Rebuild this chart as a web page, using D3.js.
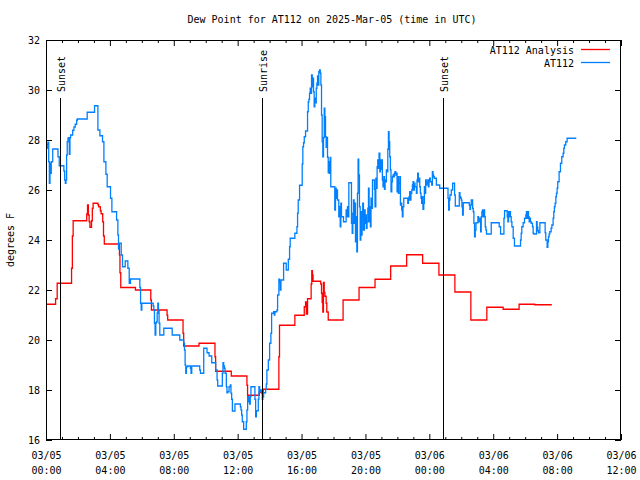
<!DOCTYPE html>
<html>
<head>
<meta charset="utf-8">
<script src="https://cdn.jsdelivr.net/npm/d3@7"></script>
<style>
  html, body { margin: 0; padding: 0; background: #fff; }
  svg { display: block; }
  text { font-family: "DejaVu Sans Mono", "Liberation Mono", monospace; font-size: 10px; fill: #000; }
</style>
</head>
<body>
<svg id="chart" width="640" height="480"></svg>
<script>
// ---------------- DATA ----------------
const titleText = "Dew Point for AT112 on 2025-Mar-05 (time in UTC)";
const yAxisLabel = "degrees F";
const startTime = "2025-03-05T00:00:00Z";
const endTime = "2025-03-06T12:00:00Z";
const yTicks = [16, 18, 20, 22, 24, 26, 28, 30, 32];
const xTickHours = [0, 4, 8, 12, 16, 20, 24, 28, 32, 36];
const seriesNames = ["AT112 Analysis", "AT112"];
const seriesColors = ["#ff0000", "#0080ff"];
// sun events, hours after start
const sunEventHours = [0.9, 13.52, 24.83];
const sunEventLabels = ["Sunset", "Sunrise", "Sunset"];

// [hours after 03/05 00:00 UTC, dew point °F]
const analysisData = [
  [0, 21.43], [0.6, 21.65], [0.7, 22.27], [1.6, 22.87], [1.65, 24.16], [1.7, 24.77],
  [2.55, 25.04], [2.6, 25.4], [2.65, 25.0], [2.7, 24.73], [2.75, 24.51], [2.85, 24.77],
  [2.9, 25.27], [2.95, 25.47], [3.25, 25.41], [3.3, 25.33], [3.4, 25.17], [3.45, 25.05],
  [3.55, 24.73], [3.6, 24.16], [3.65, 23.84], [4.6, 23.4], [4.63, 22.69], [4.68, 22.1],
  [5.6, 22.0], [6.56, 21.6], [6.6, 21.2], [7.58, 20.99], [7.62, 20.8], [8.58, 20.27],
  [8.62, 19.76], [9.58, 19.87], [10.58, 19.33], [10.62, 18.75], [11.6, 18.56],
  [12.58, 18.19], [12.62, 17.79], [13.35, 17.9], [13.6, 18.03], [14.58, 19.33],
  [14.62, 20.59], [15.58, 20.99], [16.17, 21.33], [16.25, 21.52], [16.3, 21.04],
  [16.375, 21.65], [16.6, 22.24], [16.64, 22.77], [16.68, 22.6], [16.72, 22.35],
  [17.2, 22.24], [17.25, 21.87], [17.29, 21.5], [17.33, 21.12], [17.37, 22.3],
  [17.42, 21.9], [17.46, 21.75], [17.54, 21.47], [17.58, 21.12], [17.67, 20.8],
  [18.6, 21.6], [19.6, 22.1], [20.6, 22.43], [21.58, 22.96], [22.58, 23.41],
  [23.58, 23.07], [24.6, 22.6], [25.6, 21.92], [26.6, 20.8], [27.6, 21.31],
  [28.62, 21.23], [29.62, 21.43], [30.6, 21.41], [31.67, 21.41]
];

const stationData = [
  [0, 27.67], [0.08, 27.83], [0.12, 27.91], [0.17, 27.13], [0.21, 26.27], [0.25, 27.07],
  [0.29, 26.67], [0.33, 27.13], [0.42, 27.64], [0.75, 27.33], [0.83, 26.97], [1.12, 26.76],
  [1.17, 26.4], [1.21, 26.27], [1.25, 26.4], [1.29, 27.4], [1.33, 27.93], [1.375, 28.07],
  [1.42, 28.09], [1.46, 27.43], [1.5, 28.09], [1.54, 28.2], [1.67, 28.39], [1.75, 28.52],
  [1.83, 28.63], [1.92, 28.79], [1.96, 28.84], [2.58, 29.11], [3.04, 29.37], [3.25, 28.4],
  [3.375, 28.17], [3.54, 27.93], [3.625, 27.13], [3.75, 26.63], [3.83, 26.13], [4.04, 25.67],
  [4.125, 25.13], [4.42, 24.8], [4.5, 24.2], [4.54, 23.64], [4.58, 23.87], [4.71, 23.4],
  [4.79, 22.93], [4.96, 23.16], [5.125, 22.87], [5.21, 22.27], [5.29, 22.44], [5.875, 22.1],
  [5.92, 21.47], [5.96, 21.2], [6.0, 21.47], [6.71, 21.36], [6.75, 21.2], [6.79, 20.67],
  [6.83, 20.2], [6.875, 20.69], [6.92, 20.73], [6.96, 21.07], [7.0, 21.47], [7.04, 21.2],
  [7.08, 20.67], [7.125, 20.2], [7.375, 20.47], [7.9, 20.2], [8.375, 20.0], [8.625, 19.87],
  [8.67, 19.6], [8.71, 19.0], [8.75, 18.67], [8.79, 18.93], [8.875, 18.96], [9.04, 18.87],
  [9.08, 18.67], [9.125, 18.96], [9.625, 18.8], [9.67, 18.67], [9.875, 19.67], [10.08, 19.49],
  [10.21, 19.36], [10.375, 19.09], [10.625, 18.8], [10.71, 18.4], [10.75, 18.16], [11.04, 18.67],
  [11.08, 19.09], [11.125, 18.96], [11.17, 18.87], [11.21, 18.67], [11.29, 18.13], [11.33, 17.89],
  [11.375, 17.93], [11.46, 18.13], [11.54, 18.2], [11.58, 17.87], [11.625, 17.63], [11.67, 17.16],
  [11.83, 17.44], [12.17, 17.33], [12.21, 17.2], [12.25, 17.0], [12.29, 16.73], [12.375, 16.43],
  [12.54, 16.73], [12.58, 17.2], [12.625, 17.73], [12.67, 17.53], [12.71, 17.71], [12.75, 17.44],
  [12.79, 17.73], [12.83, 18.13], [13.08, 17.63], [13.125, 16.93], [13.17, 17.17], [13.29, 17.63],
  [13.33, 18.13], [13.375, 17.93], [13.42, 18.0], [13.5, 17.87], [13.54, 17.63], [13.58, 17.73],
  [13.625, 17.89], [13.75, 18.03], [13.79, 18.24], [13.83, 18.8], [13.92, 19.2], [14.0, 19.87],
  [14.08, 20.27], [14.125, 21.07], [14.25, 21.13], [14.29, 21.0], [14.33, 21.13], [14.46, 21.2],
  [14.5, 21.8], [14.58, 22.43], [14.625, 22.3], [14.67, 22.0], [14.71, 22.4], [14.875, 23.07],
  [15.04, 22.8], [15.17, 23.23], [15.25, 23.73], [15.29, 24.07], [15.58, 24.27], [15.71, 24.53],
  [15.75, 25.07], [15.79, 25.6], [15.875, 26.19], [16.04, 27.04], [16.08, 27.73], [16.125, 27.89],
  [16.17, 28.13], [16.25, 28.36], [16.375, 29.13], [16.42, 29.53], [16.46, 29.63], [16.5, 29.87],
  [16.54, 30.07], [16.58, 29.87], [16.625, 30.6], [16.67, 30.13], [16.71, 30.47], [16.75, 29.93],
  [16.79, 29.33], [16.83, 29.67], [16.875, 29.49], [16.92, 30.07], [16.96, 30.27], [17.0, 30.56],
  [17.04, 30.2], [17.08, 30.73], [17.125, 30.8], [17.17, 30.67], [17.21, 30.2], [17.25, 29.0],
  [17.29, 27.93], [17.33, 27.33], [17.375, 28.1], [17.42, 29.27], [17.46, 28.93], [17.5, 28.13],
  [17.54, 27.71], [17.58, 28.1], [17.625, 27.31], [17.67, 26.69], [17.71, 27.13], [17.75, 26.67],
  [17.79, 27.3], [17.83, 26.13], [18.08, 25.2], [18.125, 26.07], [18.17, 25.67], [18.21, 26.0],
  [18.25, 25.6], [18.33, 24.93], [18.375, 25.33], [18.42, 24.53], [18.46, 25.47], [18.5, 24.93],
  [18.625, 24.73], [18.79, 25.2], [18.83, 24.93], [18.875, 25.33], [18.92, 24.93], [18.96, 26.29],
  [19.125, 24.67], [19.17, 24.27], [19.21, 25.07], [19.25, 25.6], [19.29, 24.67], [19.33, 25.47],
  [19.375, 23.93], [19.42, 24.93], [19.46, 23.53], [19.5, 25.87], [19.54, 27.23], [19.58, 26.6],
  [19.625, 25.33], [19.67, 24.0], [19.71, 25.13], [19.75, 24.2], [19.79, 24.93], [19.83, 25.47],
  [19.875, 24.4], [19.94, 25.2], [19.98, 24.67], [20.02, 25.0], [20.06, 24.47], [20.1, 24.73],
  [20.15, 25.27], [20.19, 26.07], [20.23, 24.73], [20.27, 25.33], [20.31, 24.53], [20.35, 25.67],
  [20.4, 25.27], [20.44, 26.4], [20.56, 26.03], [20.6, 25.33], [20.65, 26.47], [20.69, 26.07],
  [20.73, 26.93], [20.77, 27.2], [20.81, 26.87], [20.85, 27.47], [20.9, 26.73], [20.94, 27.2],
  [20.98, 26.83], [21.02, 27.2], [21.06, 26.4], [21.1, 26.13], [21.15, 26.53], [21.19, 26.03],
  [21.23, 26.4], [21.27, 26.33], [21.31, 26.8], [21.35, 26.73], [21.4, 27.63], [21.44, 28.33],
  [21.48, 27.93], [21.52, 27.33], [21.56, 26.8], [21.6, 25.93], [21.65, 26.33], [21.69, 26.53],
  [21.73, 26.6], [21.77, 26.53], [21.81, 26.67], [21.85, 26.73], [21.9, 26.6], [21.94, 26.67],
  [21.98, 25.93], [22.02, 26.53], [22.06, 25.87], [22.1, 26.27], [22.15, 26.53], [22.19, 25.4],
  [22.23, 25.47], [22.27, 25.2], [22.31, 24.93], [22.35, 25.33], [22.4, 25.67], [22.65, 25.47],
  [22.69, 25.6], [22.73, 25.73], [22.77, 25.93], [22.81, 25.6], [22.85, 25.87], [22.9, 26.0],
  [22.94, 26.2], [22.98, 26.33], [23.02, 26.0], [23.06, 26.27], [23.1, 26.13], [23.19, 25.87],
  [23.23, 26.4], [23.27, 26.67], [23.31, 26.33], [23.35, 26.47], [23.4, 26.13], [23.44, 25.87],
  [23.48, 25.67], [23.52, 25.47], [23.56, 25.73], [23.6, 25.23], [23.65, 25.47], [23.69, 26.13],
  [23.73, 25.87], [23.77, 26.4], [23.81, 26.2], [23.85, 26.27], [23.9, 26.4], [23.94, 26.13],
  [23.98, 26.33], [24.02, 26.47], [24.06, 26.33], [24.15, 26.2], [24.19, 26.73], [24.23, 26.6],
  [24.27, 26.53], [24.31, 26.47], [24.44, 26.2], [24.65, 26.07], [25.17, 25.67], [25.21, 25.2],
  [25.25, 25.6], [25.29, 25.8], [25.375, 26.0], [25.46, 26.27], [25.58, 25.8], [25.625, 25.36],
  [25.875, 25.89], [25.92, 25.73], [25.96, 25.67], [26.0, 25.6], [26.04, 25.33], [26.08, 25.0],
  [26.125, 25.49], [26.5, 25.4], [26.54, 25.23], [26.58, 25.4], [26.625, 25.6], [26.71, 25.27],
  [26.75, 25.13], [26.79, 24.67], [26.83, 24.13], [26.875, 24.4], [26.92, 24.69], [27.04, 24.93],
  [27.08, 24.73], [27.125, 24.87], [27.21, 24.33], [27.25, 24.93], [27.29, 25.13], [27.33, 25.2],
  [27.375, 24.93], [27.42, 25.2], [27.46, 24.93], [27.5, 24.53], [27.54, 24.4], [27.58, 24.24],
  [27.875, 24.69], [28.375, 24.53], [28.46, 24.24], [28.67, 24.87], [28.71, 25.17], [28.875, 24.93],
  [28.92, 24.73], [28.96, 25.13], [29.0, 24.93], [29.04, 25.13], [29.08, 24.93], [29.125, 24.73],
  [29.17, 24.53], [29.25, 24.07], [29.33, 23.76], [29.71, 24.0], [29.75, 24.27], [29.79, 24.53],
  [29.875, 24.69], [29.96, 24.87], [30.04, 25.0], [30.08, 25.13], [30.125, 24.87], [30.17, 25.13],
  [30.21, 24.93], [30.25, 24.73], [30.29, 24.87], [30.33, 24.73], [30.375, 24.67], [30.46, 24.53],
  [30.5, 24.27], [30.54, 24.24], [30.71, 24.73], [30.75, 24.51], [30.79, 24.37], [30.83, 24.29],
  [30.92, 24.69], [31.25, 24.29], [31.29, 24.0], [31.375, 23.71], [31.42, 23.93], [31.46, 24.13],
  [31.5, 24.24], [31.54, 24.33], [31.625, 24.47], [31.67, 24.6], [31.75, 24.87], [31.79, 25.13],
  [31.83, 25.33], [31.875, 25.47], [31.92, 25.73], [31.96, 25.87], [32.0, 26.07], [32.04, 26.33],
  [32.125, 26.73], [32.21, 27.07], [32.29, 27.33], [32.375, 27.47], [32.42, 27.67], [32.46, 27.8],
  [32.54, 27.93], [32.625, 28.07], [33.2, 28.07]
];

// ---------------- CHART ----------------
const W = 640, H = 480;
const margin = { left: 46, right: 19, top: 40, bottom: 40 };
const svg = d3.select("#chart");
const t0 = new Date(startTime), t1 = new Date(endTime);
const toDate = h => new Date(t0.getTime() + h * 3600000);

const x = d3.scaleUtc().domain([t0, t1]).range([margin.left, W - margin.right]);
const y = d3.scaleLinear().domain([16, 32]).range([H - margin.bottom, margin.top]);

const majorTicks = xTickHours.map(toDate);
const minorTicks = d3.range(0, 37, 1).filter(h => h % 4 !== 0).map(toDate);

// plot lines
const line = d3.line()
  .x(d => x(toDate(d[0])))
  .y(d => y(d[1]))
  .curve(d3.curveStepAfter);

[analysisData, stationData].forEach((data, i) => {
  svg.append("path")
    .datum(data)
    .attr("fill", "none")
    .attr("stroke", seriesColors[i])
    .attr("stroke-width", 1.3)
    .attr("d", line);
});

// axes (ticks inward)
const fmtDate = d3.utcFormat("%m/%d");
const fmtTime = d3.utcFormat("%H:%M");

const bottom = svg.append("g")
  .attr("transform", `translate(0,${H - margin.bottom})`)
  .call(d3.axisBottom(x).tickValues(majorTicks).tickSize(-6).tickFormat(""));
bottom.selectAll(".tick").each(function(d) {
  const t = d3.select(this).append("text")
    .attr("text-anchor", "middle")
    .attr("y", 19);
  t.append("tspan").attr("x", 0).text(fmtDate(d));
  t.append("tspan").attr("x", 0).attr("dy", 15).text(fmtTime(d));
});
svg.append("g")
  .attr("transform", `translate(0,${H - margin.bottom})`)
  .call(d3.axisBottom(x).tickValues(minorTicks).tickSize(-3).tickFormat(""));

svg.append("g")
  .attr("transform", `translate(0,${margin.top})`)
  .call(d3.axisTop(x).tickValues(majorTicks).tickSize(-6).tickFormat(""));
svg.append("g")
  .attr("transform", `translate(0,${margin.top})`)
  .call(d3.axisTop(x).tickValues(minorTicks).tickSize(-3).tickFormat(""));

const left = svg.append("g")
  .attr("transform", `translate(${margin.left},0)`)
  .call(d3.axisLeft(y).tickValues(yTicks).tickSize(-6).tickPadding(6).tickFormat(d3.format("d")));
svg.append("g")
  .attr("transform", `translate(${W - margin.right},0)`)
  .call(d3.axisRight(y).tickValues(yTicks).tickSize(-6).tickFormat(""));

svg.selectAll(".domain").remove();
svg.selectAll(".tick line").attr("stroke", "#000");
svg.selectAll(".tick text").attr("font-family", null).attr("font-size", null).attr("fill", "#000");

// frame
svg.append("rect")
  .attr("x", margin.left + 0.5).attr("y", margin.top + 0.5)
  .attr("width", W - margin.left - margin.right - 1)
  .attr("height", H - margin.top - margin.bottom - 1)
  .attr("fill", "none").attr("stroke", "#000").attr("stroke-width", 1);

// sun events
sunEventHours.forEach((h, i) => {
  const sx = Math.round(x(toDate(h))) + 0.5;
  svg.append("line")
    .attr("x1", sx).attr("x2", sx)
    .attr("y1", 98).attr("y2", H - margin.bottom)
    .attr("stroke", "#000").attr("stroke-width", 1);
  svg.append("text")
    .attr("transform", `translate(${sx + 4},92) rotate(-90)`)
    .attr("text-anchor", "start")
    .text(sunEventLabels[i]);
});

// title
svg.append("text")
  .attr("x", 332).attr("y", 23)
  .attr("text-anchor", "middle")
  .text(titleText);

// y label
svg.append("text")
  .attr("transform", `translate(14,240) rotate(-90)`)
  .attr("text-anchor", "middle")
  .text(yAxisLabel);

// legend
seriesNames.forEach((name, i) => {
  const ly = 49.5 + i * 13;
  svg.append("text")
    .attr("x", 574).attr("y", ly + 4)
    .attr("text-anchor", "end")
    .text(name);
  svg.append("line")
    .attr("x1", 581).attr("x2", 610)
    .attr("y1", ly).attr("y2", ly)
    .attr("stroke", seriesColors[i]).attr("stroke-width", 1.3);
});
</script>
</body>
</html>
